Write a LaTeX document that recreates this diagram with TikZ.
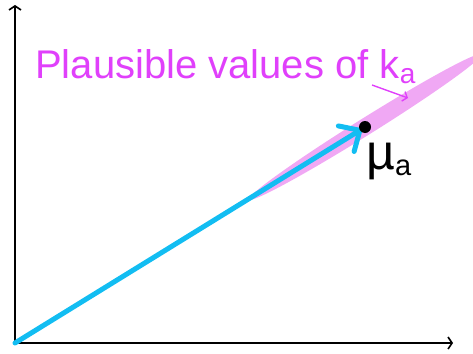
\documentclass[tikz,border=0pt]{standalone}
\usepackage{fontspec}
\setmainfont{Liberation Sans}
\usetikzlibrary{arrows.meta}
\definecolor{mag}{HTML}{E040FB}
\definecolor{pinkfill}{HTML}{F0A8F4}
\definecolor{skyb}{HTML}{12BDF2}
\begin{document}
\begin{tikzpicture}[x=1pt,y=-1pt,
  axis/.style={line width=1.6pt,black,-{Straight Barb[length=4pt,width=12pt,line width=1.6pt]}},
  vec/.style={line width=5pt,skyb,line cap=round,-{Straight Barb[length=16pt,width=30pt,line width=5pt,round]}},
  lbl/.style={inner sep=0pt,anchor=base west}]
\useasboundingbox (0,0) rectangle (473,353);
\coordinate (O) at (15,343);
\coordinate (Ytop) at (15,5);
\coordinate (Xend) at (453,343);
\coordinate (mu) at (365,127);
\coordinate (tip) at (362,129);
\fill[pinkfill] (mu) ellipse [x radius=137, y radius=8.5, rotate=32];
\draw[axis] (O) -- (Ytop);
\draw[axis] (O) -- (Xend);
\draw[vec] (O) -- (tip);
\fill[black] (mu) circle (6);
\node[lbl,text=mag,font=\fontsize{40}{40}\selectfont] (title) at (35,78) {Plausible values of k\raisebox{-5pt}{\fontsize{28}{28}\selectfont a}};
\coordinate (ka) at (372,85);
\coordinate (ell) at (408,98);
\draw[mag,line width=1.4pt,-{Straight Barb[length=4pt,width=10pt,line width=1.4pt]}] (ka) -- (ell);
\node[lbl,font=\fontsize{50}{50}\selectfont] (mulab) at (366,169) {µ\raisebox{-6pt}{\fontsize{29}{29}\selectfont a}};
\end{tikzpicture}
\end{document}
